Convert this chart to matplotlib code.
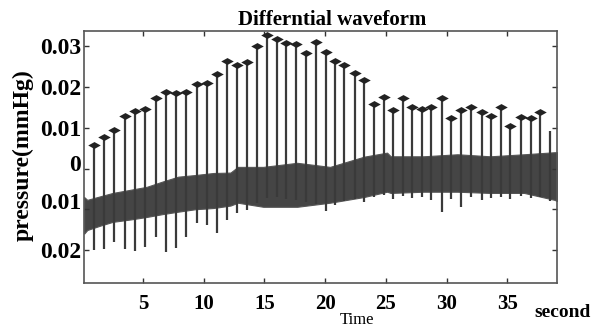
import matplotlib
matplotlib.use("Agg")
import matplotlib.pyplot as plt
import matplotlib.transforms as mtransforms
from matplotlib.path import Path

plt.rcParams["font.family"] = ["Liberation Serif", "DejaVu Serif"]

# spike times (s), peak tops and trough bottoms (mmHg)
spike_t = [0.99, 1.76, 2.63, 3.49, 4.34, 5.19, 6.05, 6.87, 7.72, 8.54,
           9.43, 10.30, 11.10, 11.92, 12.75, 13.57, 14.40, 15.22, 16.02, 16.79,
           17.59, 18.41, 19.26, 20.08, 20.85, 21.59, 22.42, 23.22, 24.04, 24.81,
           25.58, 26.41, 27.17, 27.94, 28.74, 29.59, 30.39, 31.21, 32.01, 32.92,
           33.68, 34.48, 35.27, 36.10, 36.92, 37.72, 38.54]
spike_top = [0.0058, 0.0077, 0.0094, 0.0129, 0.0141, 0.0147, 0.0174, 0.0188, 0.0185, 0.0188,
             0.0207, 0.0209, 0.0233, 0.0265, 0.0254, 0.0261, 0.0302, 0.0329, 0.0318, 0.0308,
             0.0307, 0.0284, 0.0311, 0.0286, 0.0263, 0.0254, 0.0235, 0.0217, 0.0159, 0.0175,
             0.0144, 0.0174, 0.0152, 0.0147, 0.0151, 0.0174, 0.0125, 0.0143, 0.0151, 0.0138,
             0.0129, 0.0152, 0.0105, 0.0127, 0.0123, 0.0139, 0.0091]
spike_bottom = [-0.0200, -0.0198, -0.0180, -0.0197, -0.0203, -0.0194, -0.0168, -0.0204, -0.0196, -0.0168,
                -0.0134, -0.0139, -0.0158, -0.0127, -0.0109, -0.0102, -0.0085, -0.0072, -0.0070, -0.0075,
                -0.0078, -0.0082, -0.0088, -0.0105, -0.0090, -0.0080, -0.0075, -0.0082, -0.0070, -0.0065,
                -0.0075, -0.0068, -0.0072, -0.0070, -0.0078, -0.0106, -0.0075, -0.0094, -0.0070, -0.0078,
                -0.0072, -0.0070, -0.0075, -0.0068, -0.0072, -0.0070, -0.0080]
# last spike has no marker
n_marked = 46

# noisy baseline band (upper / lower envelope)
band_t = [0.14, 0.4, 1.5, 2.5, 4.0, 5.3, 6.6, 7.9, 9.3, 10.8, 12.2, 12.8, 14.9, 17.7,
          20.4, 23.2, 25.1, 25.4, 28.1, 30.9, 33.6, 36.4, 38.9, 39.12]
band_hi = [-0.0070, -0.0077, -0.0068, -0.0060, -0.0052, -0.0045, -0.0032, -0.0020, -0.0016, -0.0011,
           -0.0010, 0.0004, 0.0004, 0.0014, 0.0004, 0.0029, 0.0039, 0.0030, 0.0030, 0.0035,
           0.0030, 0.0035, 0.0040, 0.0040]
band_lo = [-0.0160, -0.0151, -0.0140, -0.0131, -0.0125, -0.0119, -0.0112, -0.0106, -0.0100, -0.0097,
           -0.0091, -0.0084, -0.0094, -0.0094, -0.0084, -0.0070, -0.0057, -0.0060, -0.0057, -0.0057,
           -0.0060, -0.0060, -0.0077, -0.0080]

yticks = [0.03, 0.02, 0.01, 0, -0.01, -0.02]
ytick_labels = ["0.03", "0.02", "0.01", "0", "0.01", "0.02"]
xticks = [5, 10, 15, 20, 25, 30, 35]

dark = "#3a3a3a"
diamond = Path([(-1, 0), (0, 0.55), (1, 0), (0, -0.55), (-1, 0)],
               [Path.MOVETO, Path.LINETO, Path.LINETO, Path.LINETO, Path.CLOSEPOLY])

fig = plt.figure(figsize=(6.05, 3.36), dpi=100)
ax = fig.add_axes([0.139, 0.158, 0.782, 0.750])

ax.fill_between(band_t, band_lo, band_hi, color="#454545", lw=0.8, edgecolor="#555555")
ax.vlines(spike_t, spike_bottom, spike_top, colors=dark, lw=1.6)
ax.plot(spike_t[:n_marked], spike_top[:n_marked], ls="none", marker=diamond,
        ms=9, color="#222222", mew=0)

ax.set_xlim(0.137, 39.12)
ax.set_ylim(-0.0281, 0.0338)
ax.set_xticks(xticks)
ax.set_xticklabels([str(v) for v in xticks], fontsize=15, fontweight="bold")
ax.set_yticks(yticks)
ax.set_yticklabels(ytick_labels, fontsize=17, fontweight="bold")
ax.tick_params(axis="both", direction="in", length=3.5, width=1, top=True, right=True,
               color="#333333")
ax.tick_params(axis="x", pad=8)
ax.tick_params(axis="y", pad=2)
for s in ax.spines.values():
    s.set_color("#555555")
    s.set_linewidth(1.2)

# the "0" and lower "0.01" labels sit a little above their ticks in the original
for lab, dy in zip(ax.get_yticklabels()[3:5], [4, 6]):
    lab.set_transform(lab.get_transform()
                      + mtransforms.ScaledTranslation(0, dy / 72, fig.dpi_scale_trans))

fig.text(0.549, 0.94, "Differntial waveform", ha="center", va="center",
         fontsize=15, fontweight="bold")
fig.text(0.038, 0.539, "pressure(mmHg)", rotation=90, ha="center", va="center",
         fontsize=17, fontweight="bold")
fig.text(0.93, 0.071, "second", ha="center", va="center", fontsize=14, fontweight="bold")
fig.text(0.590, 0.048, "Time", ha="center", va="center", fontsize=12)

fig.savefig("out.png", dpi=100)
